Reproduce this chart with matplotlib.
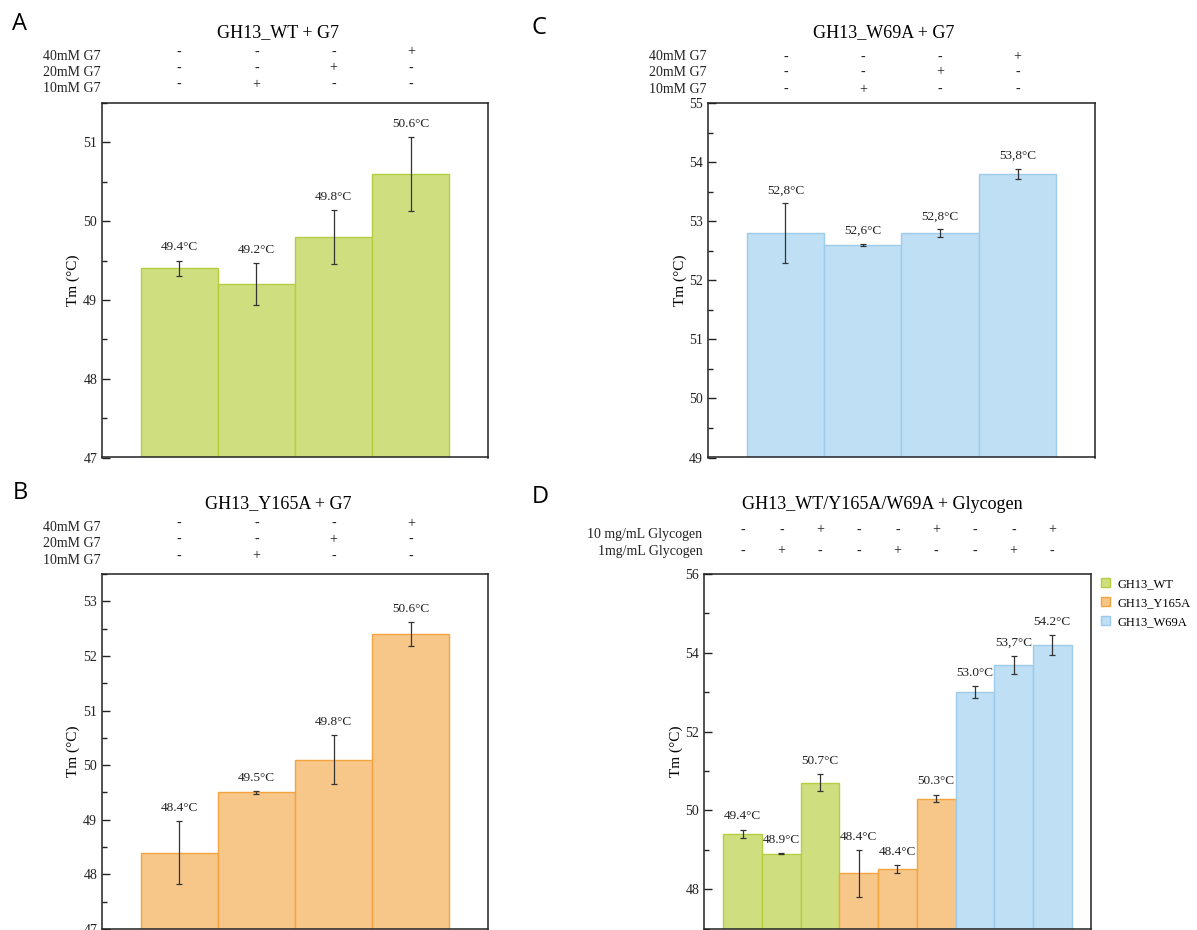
import matplotlib
matplotlib.use("Agg")
import matplotlib.pyplot as plt
from matplotlib.patches import Patch
from matplotlib.ticker import MultipleLocator
import matplotlib.transforms as mtransforms

# ---------------- data ----------------
g7_conditions = ["40mM G7", "20mM G7", "10mM G7"]
g7_signs = [["-", "-", "-", "+"],
            ["-", "-", "+", "-"],
            ["-", "+", "-", "-"]]

wt_g7_tm = [49.4, 49.2, 49.8, 50.6]
wt_g7_err = [0.10, 0.27, 0.34, 0.47]
wt_g7_labels = ["49.4°C", "49.2°C", "49.8°C", "50.6°C"]

y165a_g7_tm = [48.4, 49.5, 50.1, 52.4]
y165a_g7_err = [0.58, 0.02, 0.45, 0.22]
y165a_g7_labels = ["48.4°C", "49.5°C", "49.8°C", "50.6°C"]

w69a_g7_tm = [52.8, 52.6, 52.8, 53.8]
w69a_g7_err = [0.50, 0.02, 0.06, 0.08]
w69a_g7_labels = ["52,8°C", "52,6°C", "52,8°C", "53,8°C"]

gly_conditions = ["10 mg/mL Glycogen", "1mg/mL Glycogen"]
gly_signs = [["-", "-", "+", "-", "-", "+", "-", "-", "+"],
             ["-", "+", "-", "-", "+", "-", "-", "+", "-"]]
gly_groups = ["GH13_WT"] * 3 + ["GH13_Y165A"] * 3 + ["GH13_W69A"] * 3
gly_tm = [49.4, 48.9, 50.7, 48.4, 48.5, 50.3, 53.0, 53.7, 54.2]
gly_err = [0.11, 0.01, 0.22, 0.59, 0.10, 0.10, 0.15, 0.23, 0.25]
gly_labels = ["49.4°C", "48.9°C", "50.7°C", "48.4°C", "48.4°C",
              "50.3°C", "53.0°C", "53,7°C", "54.2°C"]

# ---------------- style ----------------
W, H = 1197, 930
SERIF = ["Liberation Serif", "DejaVu Serif"]
SANS = ["Open Sans", "DejaVu Sans"]
plt.rcParams["font.family"] = SERIF

colors = {
    "GH13_WT": ("#cfdf80", "#b3cf40"),
    "GH13_Y165A": ("#f7c78a", "#f3a440"),
    "GH13_W69A": ("#bfe0f4", "#9dcbec"),
}

fig = plt.figure(figsize=(W / 100, H / 100), dpi=100)


def add_ax(left, top, right, bottom):
    return fig.add_axes([left / W, 1 - bottom / H, (right - left) / W, (bottom - top) / H])


def fy(py):
    return 1 - py / H


def fx(px):
    return px / W


def style_axes(ax, ylim, major, minor):
    ax.set_ylim(*ylim)
    ax.yaxis.set_major_locator(MultipleLocator(major))
    ax.yaxis.set_minor_locator(MultipleLocator(minor))
    ax.set_xticks([])
    ax.tick_params(axis="y", which="major", direction="in", length=6, width=1.0,
                   labelsize=10, pad=3.5, color="#222222", labelcolor="#222222")
    ax.tick_params(axis="y", which="minor", direction="in", length=3.5, width=1.0,
                   color="#222222")
    for s in ax.spines.values():
        s.set_linewidth(1.1)
        s.set_color("#222222")


def draw_bars(ax, values, errs, labels, groups, xlim):
    x = list(range(len(values)))
    fc = [colors[g][0] for g in groups]
    ec = [colors[g][1] for g in groups]
    ax.bar(x, values, width=1.0, color=fc, edgecolor=ec, linewidth=1.0, zorder=2)
    ax.errorbar(x, values, yerr=errs, fmt="none", ecolor="#333333", elinewidth=0.9,
                capsize=2.3, capthick=0.9, zorder=3)
    for xi, v, e, lab in zip(x, values, errs, labels):
        ax.annotate(lab, (xi, v + e), xytext=(0, 9.5), textcoords="offset points",
                    ha="center", va="center", fontsize=9.5, color="#222222", zorder=4)
    ax.set_xlim(*xlim)


def condition_rows(ax, names, signs, label_y, sign_dy, fontsize=10):
    trans = mtransforms.blended_transform_factory(ax.transData, fig.transFigure)
    trans_lab = mtransforms.blended_transform_factory(ax.transAxes, fig.transFigure)
    for name, row, ly, dy in zip(names, signs, label_y, sign_dy):
        ax.text(-0.004, fy(ly), name, transform=trans_lab, ha="right", va="center",
                fontsize=fontsize, color="#222222", clip_on=False)
        for xi, s in enumerate(row):
            ax.text(xi, fy(ly + dy), s, transform=trans, ha="center", va="center",
                    fontsize=fontsize, color="#222222", clip_on=False)


# ---------------- panel A ----------------
axA = add_ax(102, 103, 488, 457.5)
draw_bars(axA, wt_g7_tm, wt_g7_err, wt_g7_labels, ["GH13_WT"] * 4, (-1, 4))
style_axes(axA, (47, 51.5), 1, 0.5)
condition_rows(axA, g7_conditions, g7_signs, [56, 72, 88.3], [-4, -4, -4])
fig.text(fx(278), fy(32.3), "GH13_WT + G7", ha="center", va="center", fontsize=13)
fig.text(fx(73), fy(280), "Tm (°C)", rotation=90, ha="center", va="center", fontsize=11)
fig.text(fx(20), fy(23.5), "A", ha="center", va="center", fontsize=17, family=SANS)

# ---------------- panel B ----------------
axB = add_ax(102, 574, 488, 929)
draw_bars(axB, y165a_g7_tm, y165a_g7_err, y165a_g7_labels, ["GH13_Y165A"] * 4, (-1, 4))
style_axes(axB, (47, 53.5), 1, 0.5)
condition_rows(axB, g7_conditions, g7_signs, [527.7, 543.7, 560], [-4, -4, -4])
fig.text(fx(278), fy(503.3), "GH13_Y165A + G7", ha="center", va="center", fontsize=13)
fig.text(fx(73), fy(751), "Tm (°C)", rotation=90, ha="center", va="center", fontsize=11)
fig.text(fx(20.5), fy(493), "B", ha="center", va="center", fontsize=17, family=SANS)

# ---------------- panel C ----------------
axC = add_ax(708, 103, 1095, 457.5)
draw_bars(axC, w69a_g7_tm, w69a_g7_err, w69a_g7_labels, ["GH13_W69A"] * 4, (-1, 4))
style_axes(axC, (49, 55), 1, 0.5)
condition_rows(axC, g7_conditions, g7_signs, [57, 72, 89.3], [0, 0, 0])
fig.text(fx(884), fy(32.3), "GH13_W69A + G7", ha="center", va="center", fontsize=13)
fig.text(fx(680), fy(280), "Tm (°C)", rotation=90, ha="center", va="center", fontsize=11)
fig.text(fx(539), fy(28), "C", ha="center", va="center", fontsize=17, family=SANS)

# ---------------- panel D ----------------
axD = add_ax(704, 574, 1091, 928.5)
draw_bars(axD, gly_tm, gly_err, gly_labels, gly_groups, (-1, 9))
style_axes(axD, (47, 56), 2, 1)
condition_rows(axD, gly_conditions, gly_signs, [534, 552], [-4, -1])
fig.text(fx(882), fy(504), "GH13_WT/Y165A/W69A + Glycogen", ha="center", va="center",
         fontsize=13)
fig.text(fx(676), fy(751), "Tm (°C)", rotation=90, ha="center", va="center", fontsize=11)
fig.text(fx(540), fy(497), "D", ha="center", va="center", fontsize=17, family=SANS)

handles = [Patch(facecolor=colors[g][0], edgecolor=colors[g][1], linewidth=1.0, label=g)
           for g in ["GH13_WT", "GH13_Y165A", "GH13_W69A"]]
axD.legend(handles=handles, loc="upper left", bbox_to_anchor=(fx(1101), fy(578)),
           bbox_transform=fig.transFigure, frameon=False, fontsize=9,
           handlelength=0.7, handleheight=0.7, handletextpad=0.6, labelspacing=0.55,
           borderpad=0, borderaxespad=0)

fig.savefig("out.png", dpi=100)
